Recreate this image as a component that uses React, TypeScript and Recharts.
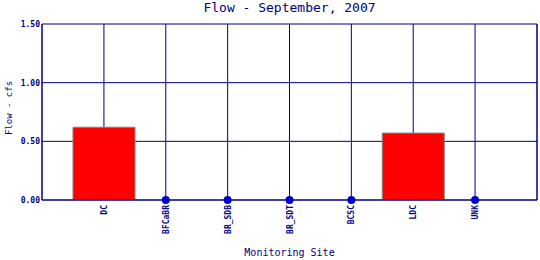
import React from 'react'
import {
  ComposedChart,
  Bar,
  Line,
  XAxis,
  YAxis,
  CartesianGrid,
} from 'recharts'

const sites = ['DC', 'BFCaBR', 'BR_SDB', 'BR_SDT', 'BCSC', 'LDC', 'UNK']
const flow = [0.62, 0, 0, 0, 0, 0.57, 0]
const yTicks = [0, 0.5, 1.0, 1.5]

const NAVY = '#000080'
const MONO = '"DejaVu Sans Mono", "Liberation Mono", monospace'

const data = sites.map((site, i) => ({
  site,
  flow: flow[i] > 0 ? flow[i] : null,
  zero: flow[i] === 0 ? 0 : null,
}))

function SiteTick({ x, y, payload }: any) {
  return (
    <text
      transform={`translate(${x + 3},${y + 5}) rotate(-90)`}
      textAnchor="end"
      fontFamily={MONO}
      fontSize={8}
      fontWeight="bold"
      fill={NAVY}
    >
      {payload.value}
    </text>
  )
}

function FlowLabel({ viewBox }: any) {
  const cx = viewBox.x + 12
  const cy = viewBox.y + viewBox.height / 2 - 4
  return (
    <text
      transform={`translate(${cx},${cy}) rotate(-90)`}
      textAnchor="middle"
      fontFamily={MONO}
      fontSize={9}
      fill={NAVY}
    >
      Flow - cfs
    </text>
  )
}

export default function App() {
  return (
    <div style={{ position: 'absolute', left: 0, top: 0, width: 540, height: 260, background: '#fff' }}>
      <div
        style={{
          position: 'absolute',
          left: 42,
          width: 495,
          top: 0,
          lineHeight: '16px',
          textAlign: 'center',
          fontFamily: MONO,
          fontSize: 13,
          color: NAVY,
        }}
      >
        Flow - September, 2007
      </div>
      <ComposedChart
        width={540}
        height={260}
        data={data}
        margin={{ top: 24, right: 0, left: 0, bottom: 0 }}
        barCategoryGap={0}
      >
        <CartesianGrid stroke={NAVY} strokeWidth={1} />
        <XAxis
          dataKey="site"
          interval={0}
          padding={{ left: 31, right: 31 }}
          height={60}
          tickLine={false}
          tickSize={0}
          tickMargin={0}
          axisLine={{ stroke: NAVY }}
          tick={<SiteTick />}
          label={{
            value: 'Monitoring Site',
            position: 'insideBottom',
            offset: 4,
            fill: NAVY,
            fontSize: 10,
            fontFamily: MONO,
          }}
        />
        <YAxis
          domain={[0, 1.5]}
          ticks={yTicks}
          width={42}
          tickLine={false}
          tickSize={0}
          tickMargin={2}
          axisLine={{ stroke: NAVY }}
          tickFormatter={(v: number) => v.toFixed(2)}
          tick={{ fontSize: 8, fontFamily: MONO, fontWeight: 'bold', fill: NAVY }}
          label={<FlowLabel />}
        />
        <YAxis
          yAxisId="right"
          orientation="right"
          width={3}
          tick={false}
          tickLine={false}
          axisLine={{ stroke: NAVY }}
        />
        <Bar
          dataKey="flow"
          fill="#ff0000"
          stroke="#808080"
          strokeWidth={1}
          isAnimationActive={false}
        />
        <Line
          dataKey="zero"
          stroke="none"
          dot={{ r: 4, fill: '#0000cc', stroke: 'none' }}
          activeDot={false}
          isAnimationActive={false}
        />
      </ComposedChart>
    </div>
  )
}
